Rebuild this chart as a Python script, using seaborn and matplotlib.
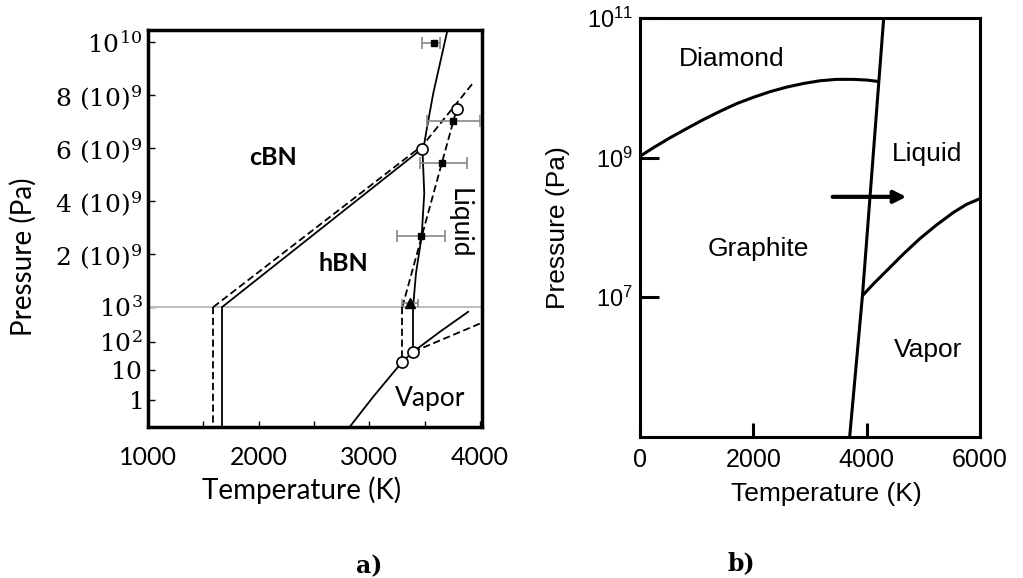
"""
Phase diagrams: a) boron nitride, b) carbon
"""

import numpy as np
import matplotlib
matplotlib.use("Agg")
import matplotlib.pyplot as plt
from matplotlib.ticker import NullLocator
import seaborn as sns

# -- Data: a) boron nitride --------------------------------------------------
# hBN / cBN boundary
hc_solid_T = [1670, 3472]
hc_solid_P = [1e3, 5.96e9]
hc_dash_T  = [1590, 3484, 3936]
hc_dash_P  = [1e3, 6.11e9, 8.45e9]

# hBN -> liquid (melting)
melt_solid_T = [3395, 3421, 3472, 3496, 3481, 3517, 3577, 3730]
melt_solid_P = [1e3, 1.27e9, 2.65e9, 4.29e9, 5.80e9, 6.68e9, 8.06e9, 10.9e9]
melt_dash_T  = [3298, 3788]
melt_dash_P  = [1e3, 7.46e9]

# low-pressure verticals
vert_solid_T = [1670, 1670]
vert_solid_P = [1e3, 0.05]
vert_dash_T  = [1590, 1590]
vert_dash_P  = [1e3, 0.05]
vert2_solid_T = [3397, 3397]
vert2_solid_P = [1e3, 45]
vert2_dash_T  = [3298, 3298]
vert2_dash_P  = [1e3, 19.8]

# liquid / vapor
vap_solid_T = [2800, 3035, 3298, 3397, 3638, 3894]
vap_solid_P = [0.1, 1.29, 19.8, 45, 197, 735]
vap_dash_T  = [3397, 4030]
vap_dash_P  = [45, 370]

# triple points (open circles)
tp_T = [3472, 3788, 3298, 3397]
tp_P = [5.96e9, 7.46e9, 19.8, 45]

# measured melting points with temperature error bars
meas_T      = [3584, 3758, 3659, 3466]
meas_P      = [9.97e9, 7.03e9, 5.45e9, 2.68e9]
meas_err_lo = [110, 240, 200, 220]
meas_err_hi = [55, 240, 220, 216]
tri_T, tri_P, tri_err = [3367], [0.16e9], [68]

bn_xticks      = [1000, 1500, 2000, 2500, 3000, 3500, 4000]
bn_xticklabels = ["1000", "", "2000", "", "3000", "", "4000"]
bn_yticks      = [1, 10, 1e2, 1e3, 2e9, 4e9, 6e9, 8e9, 1e10]
bn_yticklabels = [r"$\mathregular{1}$", r"$\mathregular{10}$", r"$\mathregular{10^2}$",
                  r"$\mathregular{10^3}$", r"$\mathregular{2\ (10)^9}$",
                  r"$\mathregular{4\ (10)^9}$", r"$\mathregular{6\ (10)^9}$",
                  r"$\mathregular{8\ (10)^9}$", r"$\mathregular{10^{10}}$"]

# -- Data: b) carbon ----------------------------------------------------------
c_melt_T = [3700, 3925, 4300]
c_melt_P = [1e5, 1.05e7, 1e11]
c_dia_T  = [0, 235, 529, 824, 1118, 1412, 1706, 2000, 2294, 2588, 2882,
            3176, 3471, 3765, 4000, 4205]
c_dia_P  = [1.05e9, 1.39e9, 1.93e9, 2.62e9, 3.52e9, 4.63e9, 5.97e9, 7.35e9,
            8.85e9, 1.03e10, 1.16e10, 1.27e10, 1.33e10, 1.33e10, 1.30e10, 1.24e10]
c_vap_T  = [3925, 4118, 4353, 4647, 4941, 5235, 5529, 5765, 6000]
c_vap_P  = [1.05e7, 1.55e7, 2.40e7, 4.16e7, 6.95e7, 1.09e8, 1.64e8, 2.15e8, 2.59e8]
c_arrow_T = [3400, 4700]
c_arrow_P = 2.75e8

c_xticks      = [0, 2000, 4000, 6000]
c_yticks      = [1e7, 1e9, 1e11]
c_yticklabels = [r"$\mathregular{10^7}$", r"$\mathregular{10^9}$", r"$\mathregular{10^{11}}$"]

# -- Broken pressure axis of panel a): log below 1e3 Pa, linear above ---------
LOG_KNOTS = [-9, 0, 1, 2, 3]
POS_KNOTS = [27 - 9 * 30, 27, 57, 85, 120]


def p_fwd(p):
    p = np.asarray(p, dtype=float)
    low = np.interp(np.log10(np.clip(p, 1e-9, None)), LOG_KNOTS, POS_KNOTS)
    return np.where(p <= 1e3, low, 120 + 26.5 * p / 1e9)


def p_inv(y):
    y = np.asarray(y, dtype=float)
    low = 10 ** np.interp(y, POS_KNOTS, LOG_KNOTS)
    return np.where(y <= 120, low, (y - 120) / 26.5 * 1e9)


# -- Style --------------------------------------------------------------------
sns.set_theme(style="white")
plt.rcParams["font.family"] = ["Lato", "DejaVu Sans"]
plt.rcParams["text.color"] = "black"
plt.rcParams["axes.labelcolor"] = "black"
plt.rcParams["xtick.color"] = "black"
plt.rcParams["ytick.color"] = "black"

fig = plt.figure(figsize=(10.23, 5.78), dpi=100)
ax1 = fig.add_axes([0.1447, 0.2612, 0.3265, 0.6869])
ax2 = fig.add_axes([0.6256, 0.2445, 0.3324, 0.7239])

# -- Panel a) -----------------------------------------------------------------
ax1.set_yscale("function", functions=(p_fwd, p_inv))
ax1.axhline(1e3, color="#bdbdbd", lw=1.4, zorder=1)

solid = dict(color="black", lw=1.3, sort=False, estimator=None, ax=ax1)
dash = dict(color="black", lw=1.3, sort=False, estimator=None, ax=ax1, linestyle=(0, (4, 2)))
sns.lineplot(x=hc_solid_T, y=hc_solid_P, **solid)
sns.lineplot(x=hc_dash_T, y=hc_dash_P, **dash)
sns.lineplot(x=melt_solid_T, y=melt_solid_P, **solid)
sns.lineplot(x=melt_dash_T, y=melt_dash_P, **dash)
sns.lineplot(x=vert_solid_T, y=vert_solid_P, **solid)
sns.lineplot(x=vert_dash_T, y=vert_dash_P, **dash)
sns.lineplot(x=vert2_solid_T, y=vert2_solid_P, **solid)
sns.lineplot(x=vert2_dash_T, y=vert2_dash_P, **dash)
sns.lineplot(x=vap_solid_T, y=vap_solid_P, **solid)
sns.lineplot(x=vap_dash_T, y=vap_dash_P, **dash)

ax1.errorbar(meas_T, meas_P, xerr=[meas_err_lo, meas_err_hi], fmt="s", color="black",
             ms=5, ecolor="#888888", elinewidth=1.2, capsize=4, capthick=1.2, zorder=4)
ax1.errorbar(tri_T, tri_P, xerr=tri_err, fmt="^", color="black",
             ms=7, ecolor="#888888", elinewidth=1.2, capsize=3, capthick=1.2, zorder=4)
ax1.plot(tp_T, tp_P, "o", mfc="white", mec="black", ms=8, mew=1.2, zorder=5)

ax1.text(2129, 5.66e9, "cBN", fontsize=18, fontweight="bold", ha="center", va="center")
ax1.text(2764, 1.65e9, "hBN", fontsize=18, fontweight="bold", ha="center", va="center")
ax1.text(3815, 3.16e9, "Liquid", fontsize=19, rotation=270, ha="center", va="center")
ax1.text(3547, 1.14, "Vapor", fontsize=19, ha="center", va="center")

ax1.set_xlim(1000, 4018)
ax1.set_ylim(float(p_inv(0)), float(p_inv(397)))
ax1.set_xticks(bn_xticks)
ax1.set_xticklabels(bn_xticklabels, fontsize=18)
ax1.set_yticks(bn_yticks)
ax1.set_yticklabels(bn_yticklabels, fontfamily="DejaVu Serif", fontsize=18)
ax1.yaxis.set_minor_locator(NullLocator())
ax1.tick_params(axis="x", direction="in", length=4, width=1, bottom=True, pad=14)
ax1.tick_params(axis="y", direction="in", length=5, width=1, left=True, pad=4)
ax1.set_xlabel("Temperature (K)", fontsize=20)
ax1.set_ylabel("Pressure (Pa)", fontsize=20)
ax1.xaxis.set_label_coords(0.461, -0.125)
ax1.yaxis.set_label_coords(-0.332, 0.428)
for sp in ax1.spines.values():
    sp.set_color("black")
    sp.set_linewidth(2.5)

# -- Panel b) -----------------------------------------------------------------
ax2.set_yscale("log")
line2 = dict(color="black", lw=2.2, sort=False, estimator=None, ax=ax2)
sns.lineplot(x=c_melt_T, y=c_melt_P, **line2)
sns.lineplot(x=c_dia_T, y=c_dia_P, **line2)
sns.lineplot(x=c_vap_T, y=c_vap_P, **line2)
ax2.annotate("", xy=(c_arrow_T[1], c_arrow_P), xytext=(c_arrow_T[0], c_arrow_P),
             arrowprops=dict(arrowstyle="-|>", lw=3, color="black", mutation_scale=18,
                             shrinkA=0, shrinkB=0))

sans = "Liberation Sans"
ax2.text(1618, 10 ** 10.41, "Diamond", fontsize=19, family=sans, ha="center", va="center")
ax2.text(5070, 10 ** 9.06, "Liquid", fontsize=19, family=sans, ha="center", va="center")
ax2.text(2088, 10 ** 7.69, "Graphite", fontsize=19, family=sans, ha="center", va="center")
ax2.text(5088, 10 ** 6.25, "Vapor", fontsize=19, family=sans, ha="center", va="center")

ax2.set_xlim(0, 6000)
ax2.set_ylim(1e5, 1e11)
ax2.set_xticks(c_xticks)
ax2.set_xticklabels([str(t) for t in c_xticks], fontsize=18, family=sans)
ax2.set_yticks(c_yticks)
ax2.set_yticklabels(c_yticklabels, fontsize=17, family=sans)
ax2.yaxis.set_minor_locator(NullLocator())
ax2.tick_params(axis="x", direction="in", length=10, width=2.2, bottom=True, pad=8)
ax2.tick_params(axis="y", direction="in", length=14, width=2.2, left=True, pad=5)
ax2.set_xlabel("Temperature (K)", fontsize=19, family=sans)
ax2.set_ylabel("Pressure (Pa)", fontsize=19, family=sans)
ax2.xaxis.set_label_coords(0.547, -0.108)
ax2.yaxis.set_label_coords(-0.206, 0.499)
for sp in ax2.spines.values():
    sp.set_color("black")
    sp.set_linewidth(2.2)

# -- Panel labels ---------------------------------------------------------------
fig.text(369 / 1023, 1 - 566 / 578, "a)", fontsize=17, fontweight="bold",
         family="DejaVu Serif", ha="center", va="center")
fig.text(741 / 1023, 1 - 563 / 578, "b)", fontsize=17, fontweight="bold",
         family="DejaVu Serif", ha="center", va="center")

fig.savefig("out.png", dpi=100)
plt.close(fig)
